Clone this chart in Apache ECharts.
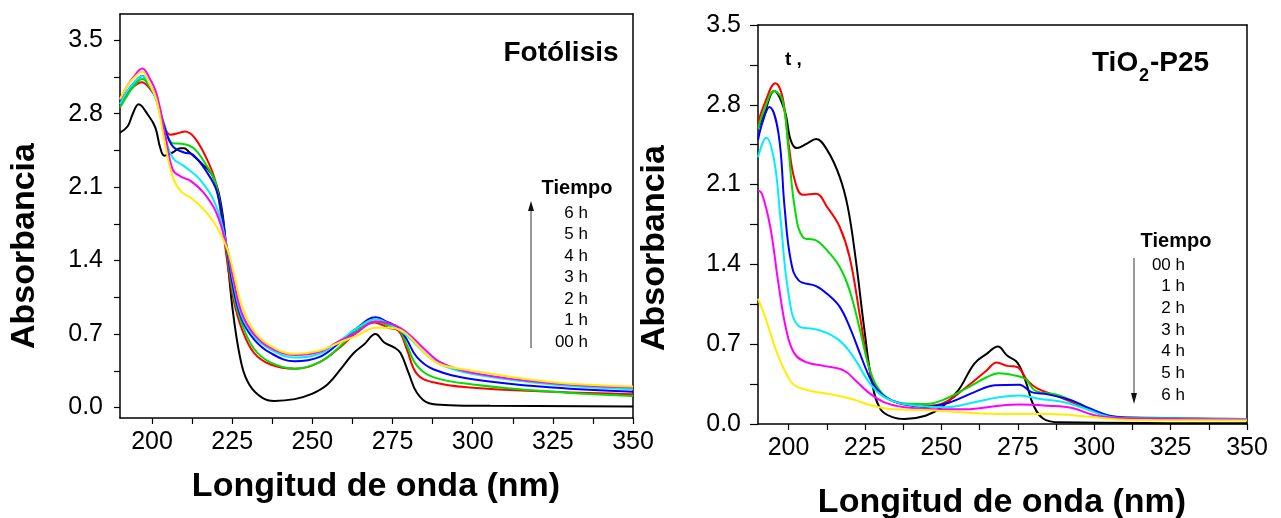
<!DOCTYPE html>
<html>
<head>
<meta charset="utf-8">
<script src="https://cdn.jsdelivr.net/npm/echarts@6/dist/echarts.min.js"></script>
<style>
  html, body { margin: 0; padding: 0; background: #fff; }
  #chart { width: 1281px; height: 518px; }
</style>
</head>
<body>
<div id="chart"></div>
<script>
// series colours, one per time step (00 h .. 6 h)
const colors = ['#000000', '#ff0000', '#00dd00', '#0000ff', '#00eeff', '#ff00ff', '#ffee00']
const timeLabels = ['00 h', '1 h', '2 h', '3 h', '4 h', '5 h', '6 h']

// axis ticks / labels
const xTicks = [200, 212.5, 225, 237.5, 250, 262.5, 275, 287.5, 300, 312.5, 325, 337.5, 350]
const xLabels = [200, 225, 250, 275, 300, 325, 350]
const yTicks = [0, 0.35, 0.7, 1.05, 1.4, 1.75, 2.1, 2.45, 2.8, 3.15, 3.5]
const yLabels = [0, 0.7, 1.4, 2.1, 2.8, 3.5]

// Fotólisis  [wavelength nm, absorbance]
const fot00h = [[190,2.62],[192.4,2.68],[194,2.8],[195.8,2.89],[198.7,2.79],[201,2.67],[202.5,2.48],[203.8,2.40],[205,2.41],[206.4,2.43],[208.9,2.47],[210,2.47],[211.4,2.44],[215.3,2.33],[219,2.2],[221.6,1.92],[223.5,1.41],[225.4,0.87],[228,0.40],[230.5,0.21],[234.3,0.095],[238.1,0.063],[244.5,0.08],[249.6,0.127],[254.7,0.22],[259.7,0.40],[262.9,0.52],[266.1,0.60],[269.7,0.70],[272.4,0.62],[275.6,0.57],[277.5,0.52],[280,0.33],[282.6,0.14],[286.4,0.04],[292.8,0.022],[305.5,0.016],[350,0.01]]
const fot01h = [[190,2.90],[192,2.98],[194,3.05],[196.8,3.10],[199,3.05],[201.3,2.94],[203.8,2.68],[205.7,2.60],[208.9,2.62],[210.2,2.63],[213.3,2.57],[217.2,2.36],[219.7,2.16],[221.6,1.82],[223.5,1.38],[225.4,1.03],[228,0.75],[231.8,0.52],[236.9,0.41],[244.5,0.37],[252.1,0.43],[258.5,0.57],[263.6,0.71],[269.3,0.81],[273.7,0.76],[276.9,0.73],[279.4,0.56],[282.6,0.32],[287.7,0.24],[299.1,0.19],[325,0.15],[350,0.127]]
const fot02h = [[190,2.86],[192,2.96],[194,3.05],[197,3.13],[199,3.07],[201.3,2.95],[203.8,2.70],[206.4,2.52],[210,2.51],[213,2.47],[216.5,2.33],[220,2.12],[223.5,1.45],[225.4,1.08],[228,0.80],[231.8,0.56],[236.9,0.43],[244.5,0.37],[252.1,0.43],[258.5,0.58],[263.6,0.73],[269.7,0.82],[274,0.78],[277,0.75],[279.4,0.60],[282.6,0.40],[287.7,0.29],[300,0.22],[325,0.15],[350,0.11]]
const fot03h = [[190,2.89],[192,3.0],[194,3.08],[197,3.16],[199,3.09],[201.3,2.95],[203.8,2.68],[206.4,2.49],[210,2.43],[212.7,2.41],[216.5,2.27],[220.3,2.05],[223.5,1.48],[225.4,1.13],[228,0.84],[231.8,0.65],[236.9,0.52],[244.5,0.44],[252.1,0.48],[258.5,0.62],[263.6,0.75],[269.7,0.86],[273.7,0.81],[276.9,0.76],[279.4,0.65],[282.6,0.48],[287.7,0.365],[300,0.27],[325,0.19],[350,0.15]]
const fot04h = [[190,2.89],[192,3.0],[194,3.08],[197,3.16],[199,3.09],[201.3,2.93],[203.8,2.62],[206.4,2.38],[210,2.30],[215,2.17],[220,1.92],[223.5,1.51],[225.4,1.19],[228,0.87],[231.8,0.68],[236.9,0.555],[244.5,0.476],[252.1,0.51],[258.5,0.635],[263.6,0.75],[269.7,0.84],[276,0.76],[280,0.67],[285,0.52],[290,0.41],[300,0.32],[325,0.22],[350,0.175]]
const fot05h = [[190,2.93],[192,3.05],[194,3.14],[197,3.23],[199,3.15],[201.3,3.0],[203.8,2.65],[206.4,2.27],[209,2.2],[212,2.16],[216,2.05],[220,1.86],[223.5,1.51],[225.4,1.22],[228,0.9],[231.8,0.70],[236.9,0.57],[244.5,0.50],[252.1,0.53],[258.5,0.635],[263.6,0.71],[269.7,0.82],[276,0.78],[280,0.70],[285,0.555],[290,0.43],[300,0.33],[325,0.23],[350,0.19]]
const fot06h = [[190,2.94],[192,3.05],[194,3.13],[197,3.2],[199,3.1],[201.3,2.94],[203.8,2.55],[206.4,2.2],[209,2.06],[212,2.0],[216,1.89],[220,1.73],[223.5,1.51],[225.4,1.29],[228,0.97],[231.8,0.73],[236.9,0.587],[244.5,0.51],[252.1,0.54],[258.5,0.62],[263.6,0.68],[269.7,0.76],[274,0.76],[278,0.73],[282,0.62],[286,0.49],[290,0.41],[300,0.35],[325,0.24],[350,0.20]]

// TiO2-P25
const tio00h = [[190,2.59],[192,2.72],[195.3,2.92],[198.7,2.75],[200.7,2.49],[202.7,2.42],[206,2.46],[209,2.50],[212.7,2.40],[216.7,2.17],[219.4,1.90],[222,1.44],[224.7,0.85],[227.4,0.35],[230.1,0.13],[234,0.06],[238,0.044],[244.8,0.073],[250,0.146],[255.4,0.29],[260.8,0.53],[264.8,0.615],[268.5,0.68],[271.5,0.60],[274.8,0.54],[277.5,0.38],[280.2,0.16],[283.5,0.044],[288.8,0.015],[350,0.006]]
const tio01h = [[190,2.64],[192,2.8],[195.7,2.99],[198,2.87],[200,2.46],[202,2.14],[204.7,2.01],[209,2.02],[212.7,1.90],[216.7,1.73],[220,1.46],[223.4,0.94],[226,0.53],[228.7,0.32],[232.7,0.22],[238,0.176],[244.8,0.16],[250,0.176],[258,0.32],[264.8,0.47],[268.1,0.54],[271.5,0.51],[274.8,0.50],[278.2,0.38],[281.5,0.31],[287.5,0.25],[292.8,0.19],[298.2,0.13],[304.9,0.064],[311.6,0.053],[350,0.044]]
const tio02h = [[190,2.59],[192,2.75],[195.3,2.92],[198,2.84],[200,2.40],[202,1.90],[204.7,1.64],[209,1.61],[212.7,1.52],[216.7,1.38],[220,1.17],[223.4,0.82],[226,0.53],[228.7,0.34],[232.7,0.22],[238,0.18],[244.8,0.176],[250,0.205],[258,0.31],[264.8,0.41],[268.8,0.445],[274.1,0.425],[277.5,0.395],[280.8,0.29],[287.5,0.26],[292.8,0.205],[298.2,0.13],[304.9,0.073],[311.6,0.059],[350,0.044]]
const tio03h = [[190,2.49],[191.5,2.65],[193.7,2.78],[196.7,2.55],[198.7,1.90],[200.7,1.44],[203.3,1.26],[209,1.21],[212.7,1.14],[216.7,1.03],[220,0.85],[223.4,0.615],[226,0.44],[228.7,0.31],[232.7,0.22],[238,0.17],[244.8,0.15],[252.8,0.19],[260.8,0.28],[267.5,0.34],[275.5,0.345],[279.5,0.28],[284.8,0.26],[292.8,0.205],[298.2,0.14],[304.9,0.073],[311.6,0.055],[350,0.044]]
const tio04h = [[190,2.34],[192.7,2.51],[195.3,2.31],[197.3,1.82],[200,1.14],[203.3,0.86],[209,0.83],[214,0.78],[218,0.70],[222,0.556],[226,0.38],[230,0.26],[235.4,0.19],[242,0.16],[251.4,0.146],[260.8,0.19],[268.8,0.234],[275.5,0.25],[282.2,0.22],[290.2,0.19],[298.2,0.123],[304.9,0.064],[311.6,0.052],[350,0.044]]
const tio05h = [[190,2.05],[191.3,2.02],[194,1.73],[196.7,1.23],[199.3,0.82],[202,0.615],[206,0.54],[211.4,0.51],[218,0.47],[222,0.38],[226,0.28],[231.4,0.19],[238,0.146],[247.4,0.13],[258,0.13],[268.8,0.16],[275.5,0.17],[284.8,0.16],[292.8,0.14],[300.8,0.073],[311.6,0.05],[350,0.04]]
const tio06h = [[190,1.10],[192.7,0.91],[196,0.64],[199.3,0.44],[202,0.34],[207.3,0.29],[214,0.26],[220.7,0.22],[227.4,0.16],[234,0.13],[244.8,0.123],[258,0.10],[271.5,0.088],[284.8,0.088],[298.2,0.064],[311.6,0.035],[350,0.03]]

const fotSeries = [fot00h, fot01h, fot02h, fot03h, fot04h, fot05h, fot06h]
const tioSeries = [tio00h, tio01h, tio02h, tio03h, tio04h, tio05h, tio06h]

const FONT = '"Liberation Sans", Arial, sans-serif'
const axisColor = '#000'

function bottomX(grid) {
  return {
    gridIndex: grid, type: 'value', min: 190, max: 350, position: 'bottom',
    axisLine: { show: true, onZero: false, lineStyle: { color: axisColor, width: 1.5 } },
    axisTick: { show: true, customValues: xTicks, length: 6, lineStyle: { color: axisColor, width: 1.2 } },
    axisLabel: { customValues: xLabels, margin: 12, fontSize: 25, fontFamily: FONT, color: '#000' },
    splitLine: { show: false },
  }
}
function topX(grid) {
  return {
    gridIndex: grid, type: 'value', min: 190, max: 350, position: 'top',
    axisLine: { show: true, onZero: false, lineStyle: { color: axisColor, width: 1.5 } },
    axisTick: { show: false }, axisLabel: { show: false }, splitLine: { show: false },
  }
}
function leftY(grid, min, max, tickLen) {
  return {
    gridIndex: grid, type: 'value', min: min, max: max, position: 'left',
    axisLine: { show: true, onZero: false, lineStyle: { color: axisColor, width: 1.5 } },
    axisTick: { show: true, customValues: yTicks, length: tickLen, lineStyle: { color: axisColor, width: 1.2 } },
    axisLabel: {
      customValues: yLabels, margin: 17, fontSize: 25, fontFamily: FONT, color: '#000',
      formatter: (v) => Number(v).toFixed(1),
    },
    splitLine: { show: false },
  }
}
function rightY(grid, min, max) {
  return {
    gridIndex: grid, type: 'value', min: min, max: max, position: 'right',
    axisLine: { show: true, onZero: false, lineStyle: { color: axisColor, width: 1.5 } },
    axisTick: { show: false }, axisLabel: { show: false }, splitLine: { show: false },
  }
}

function makeSeries(list, grid) {
  return list.map((d, i) => ({
    type: 'line',
    name: timeLabels[i],
    xAxisIndex: grid * 2,
    yAxisIndex: grid * 2,
    data: d,
    showSymbol: false,
    smooth: 0.4,
    lineStyle: { color: colors[i], width: 2 },
    itemStyle: { color: colors[i] },
    silent: true,
  }))
}

function txt(x, y, text, size, opts) {
  opts = opts || {}
  return {
    type: 'text', x: x, y: y, rotation: opts.rotation || 0, silent: true,
    style: {
      text: text, fill: '#000',
      font: (opts.bold ? 'bold ' : '') + size + 'px ' + FONT,
      textAlign: opts.align || 'center', textVerticalAlign: 'middle',
    },
  }
}

const graphics = [
  // axis titles
  txt(25, 246, 'Absorbancia', 34, { bold: true, rotation: Math.PI / 2 }),
  txt(376, 487, 'Longitud de onda (nm)', 34, { bold: true }),
  txt(655, 248, 'Absorbancia', 34, { bold: true, rotation: Math.PI / 2 }),
  txt(1002, 503, 'Longitud de onda (nm)', 34, { bold: true }),
  // panel titles
  txt(561, 53, 'Fotólisis', 28, { bold: true }),
  txt(1092, 63, 'TiO', 28, { bold: true, align: 'left' }),
  txt(1139, 76, '2', 18, { bold: true, align: 'left' }),
  txt(1150, 63, '-P25', 28, { bold: true, align: 'left' }),
  txt(785, 60, 't ,', 19, { bold: true, align: 'left' }),
  // legend headers
  txt(577, 188, 'Tiempo', 20, { bold: true }),
  txt(1176, 241, 'Tiempo', 20, { bold: true }),
  // arrows
  { type: 'line', silent: true, shape: { x1: 531, y1: 348, x2: 531, y2: 208 }, style: { stroke: '#333', lineWidth: 1 } },
  { type: 'polygon', silent: true, shape: { points: [[528, 211], [534, 211], [531, 201]] }, style: { fill: '#111' } },
  { type: 'line', silent: true, shape: { x1: 1134, y1: 258, x2: 1134, y2: 396 }, style: { stroke: '#333', lineWidth: 1 } },
  { type: 'polygon', silent: true, shape: { points: [[1131, 393], [1137, 393], [1134, 404]] }, style: { fill: '#111' } },
]
// legend hour labels: left reads upward (6 h on top), right reads downward
timeLabels.slice().reverse().forEach((t, i) => {
  graphics.push(txt(588, 213 + i * 21.5, t, 17, { align: 'right' }))
})
timeLabels.forEach((t, i) => {
  graphics.push(txt(1185, 265 + i * 21.7, t, 17, { align: 'right' }))
})

const option = {
  animation: false,
  backgroundColor: '#fff',
  grid: [
    { left: 120, top: 14, width: 513, height: 404 },
    { left: 758, top: 25, width: 489, height: 399 },
  ],
  xAxis: [bottomX(0), topX(0), bottomX(1), topX(1)],
  yAxis: [leftY(0, -0.1, 3.75, 6), rightY(0, -0.1, 3.75), leftY(1, 0, 3.5, 8), rightY(1, 0, 3.5)],
  series: makeSeries(fotSeries, 0).concat(makeSeries(tioSeries, 1)),
  graphic: graphics,
}

const myChart = echarts.init(document.getElementById('chart'))
myChart.setOption(option)
</script>
</body>
</html>
